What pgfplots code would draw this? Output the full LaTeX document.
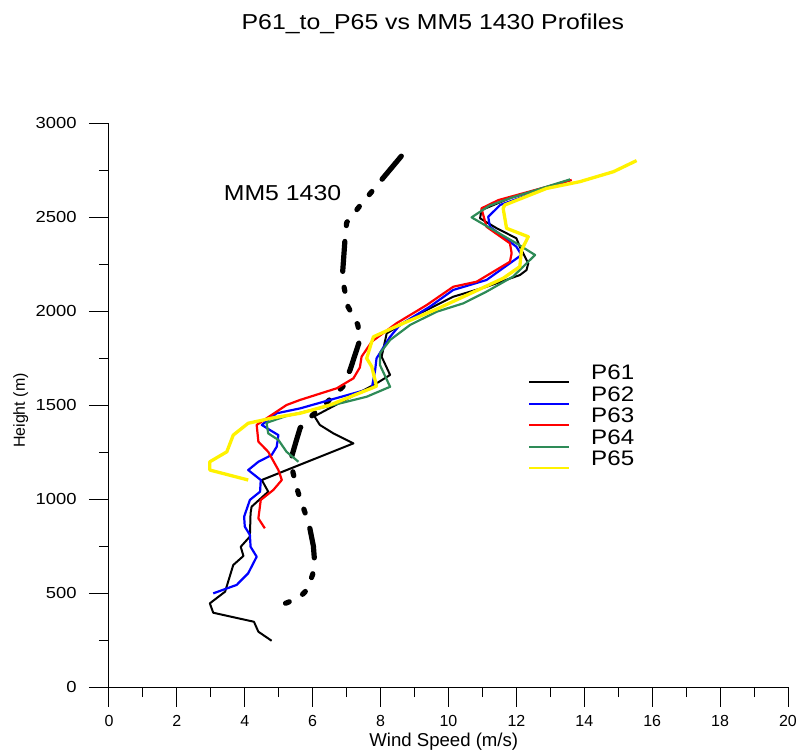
\documentclass[border=0pt]{standalone}
\usepackage{pgfplots}
\pgfplotsset{compat=1.18}
\usepackage{fontspec}
\setmainfont{Liberation Sans}
\newfontfamily\widefont[FakeStretch=1.15]{Liberation Sans}
\definecolor{pgreen}{RGB}{46,139,87}
\begin{document}
\begin{tikzpicture}
\path[use as bounding box] (-54.5pt,-34.5pt) rectangle (345pt,343.5pt);
\begin{axis}[
  at={(0,0)}, anchor=south west,
  scale only axis, width=339.5pt, height=282pt,
  xmin=0, xmax=20, ymin=0, ymax=3000,
  axis lines=left, axis line style={-, line width=0.5pt},
  xtick={0,2,...,20}, ytick={0,500,...,3000},
  minor tick num=1,
  tick align=outside,
  major tick length=10pt, minor tick length=5pt,
  tick style={line width=0.5pt, black},
  scaled ticks=false,
  /pgf/number format/1000 sep={},
  /pgf/number format/assume math mode=true,
  xticklabel style={font=\fontsize{8}{9}\selectfont, anchor=north, inner sep=0pt, yshift=-4pt},
  yticklabel style={font=\widefont\fontsize{8}{9}\selectfont, anchor=east, inner sep=0pt, xshift=-6pt},
  xlabel={Wind Speed (m/s)},
  xlabel style={font=\fontsize{9.3}{10}\selectfont, at={(axis description cs:0.493,-0.0975)}, anchor=center},
  ylabel={Height (m)},
  ylabel style={font=\fontsize{8}{9}\selectfont, at={(axis description cs:-0.13,0.49)}, anchor=center},
  title={P61\_to\_P65 vs MM5 1430 Profiles},
  title style={font=\widefont\fontsize{10.8}{13}\selectfont, at={(axis description cs:0.477,1)}, anchor=base, yshift=41pt},
  legend style={at={(axis cs:12.34,1733)}, anchor=north west, draw=none, fill=none,
    inner xsep=0pt, inner ysep=0pt, row sep=0pt, column sep=0pt,
    font=\widefont\fontsize{10.5}{12}\selectfont,
    nodes={inner sep=0pt, text height=9.1pt, text depth=1.65pt}},
  legend cell align=left,
  legend image code/.code={\draw[#1, line width=0.9pt] (0pt,-4.9pt) -- (20pt,-4.9pt); \path[draw=none,fill=none] (0pt,-4.9pt) -- (31pt,-4.9pt);},
  line join=round,
]
% MM5 1430 model profile
\addplot[black, line width=2.6pt, line cap=round,
  dash pattern=on 2pt off 7.75pt on 2pt off 7.75pt on 2pt off 8pt on 15pt off 8pt, forget plot]
  coordinates {
  (5.2,445)(5.6,475)(5.85,520)(6.0,600)(6.05,680)(6.02,750)(5.92,840)(5.77,930)
  (5.57,1035)(5.42,1140)(5.38,1225)(5.5,1300)(5.63,1378)(6.0,1447)(6.45,1520)
  (6.9,1600)(7.1,1686)(7.39,1846)(7.33,1926)(7.04,2023)(6.92,2130)(6.88,2200)
  (6.95,2378)(7.0,2470)(7.37,2555)(7.74,2635)(8.07,2707)(8.76,2856)};
% P61
\addplot[black, line width=1.0pt] coordinates {
  (4.79,246)(4.40,294)(4.27,347)(3.07,395)(2.97,445)(3.42,507)(3.66,649)(3.96,697)
  (3.88,746)(4.15,800)(4.17,924)(4.20,959)(4.69,1039)(4.50,1101)(7.20,1296)
  (6.61,1349)(6.21,1394)(6.05,1440)(7.88,1615)(8.28,1660)(8.03,1757)(8.18,1881)
  (9.16,1988)(10.14,2076)(11.12,2129)(12.1,2191)(12.3,2218)(12.35,2254)(12.1,2342)
  (12.0,2387)(11.42,2440)(10.93,2493)(10.97,2537)(11.81,2600)(13.58,2697)};
\addlegendentry{P61}
% P62
\addplot[blue, line width=1.1pt] coordinates {
  (3.07,498)(3.76,543)(4.10,605)(4.35,693)(4.17,746)(4.15,809)(4.00,853)(3.98,906)
  (4.15,995)(4.45,1039)(4.47,1101)(4.10,1154)(4.40,1198)(4.79,1234)(4.94,1278)
  (4.99,1340)(4.74,1367)(4.50,1394)(4.94,1456)(5.63,1482)(6.51,1527)(7.74,1589)
  (7.84,1686)(7.88,1748)(8.28,1863)(8.57,1926)(9.45,2023)(10.14,2112)(11.12,2165)
  (11.81,2254)(12.15,2298)(12.0,2342)(11.22,2448)(11.17,2501)(11.52,2564)(12.2,2608)
  (13.58,2697)};
\addlegendentry{P62}
% P63
\addplot[red, line width=1.1pt] coordinates {
  (4.59,844)(4.40,897)(4.47,995)(4.84,1048)(5.09,1101)(4.99,1154)(4.69,1251)
  (4.40,1305)(4.35,1394)(5.23,1500)(5.63,1527)(6.71,1589)(7.2,1642)(7.39,1700)
  (7.44,1757)(7.74,1837)(8.47,1935)(9.36,2032)(10.14,2129)(10.83,2156)(11.81,2262)
  (11.86,2307)(11.81,2360)(11.12,2448)(10.97,2546)(11.47,2590)(13.63,2697)};
\addlegendentry{P63}
% P64
\addplot[pgreen, line width=1.1pt] coordinates {
  (5.58,1198)(5.23,1251)(4.99,1314)(4.69,1349)(4.64,1405)(5.2,1440)(6.61,1500)
  (7.59,1544)(8.28,1597)(7.98,1713)(7.98,1775)(8.28,1846)(8.87,1926)(9.65,1996)
  (10.44,2041)(11.12,2103)(11.9,2183)(12.55,2298)(12.0,2360)(10.68,2498)(11.2,2560)
  (11.81,2600)(13.58,2700)};
\addlegendentry{P64}
% P65
\addplot[yellow, line width=1.65pt] coordinates {
  (4.10,1101)(2.97,1154)(2.97,1198)(3.47,1251)(3.66,1340)(4.10,1403)(4.84,1432)
  (5.63,1456)(6.51,1500)(7.88,1600)(7.74,1704)(7.59,1748)(7.74,1837)(7.79,1863)
  (8.67,1935)(9.65,2010)(10.44,2076)(11.61,2174)(12.1,2236)(12.15,2324)(12.35,2395)
  (11.71,2440)(11.61,2546)(11.66,2564)(12.89,2652)(13.87,2688)(14.86,2741)(15.54,2800)};
\addlegendentry{P65}
\node[anchor=base west, inner sep=0pt, font=\widefont\fontsize{10.8}{13}\selectfont] at (axis cs:3.37,2590) {MM5 1430};
\end{axis}
\end{tikzpicture}
\end{document}
